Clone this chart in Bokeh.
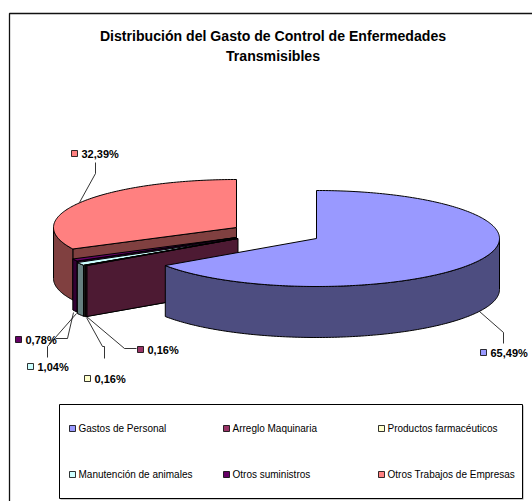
import math
from bokeh.plotting import figure
from bokeh.models import Range1d
from bokeh.embed import file_html
from bokeh.resources import INLINE
from bokeh.core.properties import value

categories = ["Gastos de Personal", "Arreglo Maquinaria", "Productos farmacéuticos",
              "Manutención de animales", "Otros suministros", "Otros Trabajos de Empresas"]
shares = [65.49, 0.16, 0.16, 1.04, 0.78, 32.39]
share_labels = ["65,49%", "0,16%", "0,16%", "1,04%", "0,78%", "32,39%"]
title_lines = ["Distribución del Gasto de Control de Enfermedades", "Transmisibles"]
top_colors = ["#9999FF", "#993366", "#FFFFCC", "#CCFFFF", "#660066", "#FF8080"]
side_colors = ["#4D4D80", "#4D1A33", "#808066", "#668080", "#330033", "#804040"]

# layout (page pixels)
RX, RY, DEPTH = 183, 48, 51
CENTERS = [(316, 238), (237.5, 238), (237, 238.5), (236.3, 238.5), (236, 237), (236, 227)]
LABEL_XY = [(483, 352), (140, 349), (87, 378), (30, 366), (18, 339), (74, 153)]
LEADER_PATHS = [
    ([479, 503, 503], [311, 332, 343]),
    ([86, 124, 136], [316, 348, 348]),
    ([86, 102, 104, 104], [317, 346, 346, 358]),
    ([76, 47, 47], [313, 346, 357]),
    ([73, 67, 55], [312, 338, 338]),
    ([79, 95, 95], [202, 173, 162]),
]
LEGEND_COLS = [72, 226, 381]
LEGEND_ROWS = [428, 474]

p = figure(width=532, height=501, x_range=Range1d(0, 532), y_range=Range1d(501, 0),
           toolbar_location=None, output_backend="svg", min_border=0)
p.axis.visible = False
p.grid.visible = False
p.outline_line_color = None
p.background_fill_color = "white"
p.border_fill_color = "white"


def pt(c, a, dy=0.0):
    return c[0] + RX * math.sin(a), c[1] - RY * math.cos(a) + dy


def arc(c, a0, a1, dy=0.0):
    n = max(2, int(abs(a1 - a0) * 60))
    return [pt(c, a0 + (a1 - a0) * i / n, dy) for i in range(n + 1)]


def poly(points, fill, width=1.0):
    p.patch([q[0] for q in points], [q[1] for q in points], fill_color=fill,
            line_color="black", line_width=width, line_join="round")


total = sum(shares)
spans = []
acc = 0.0
for s in shares:
    a0 = acc / total * 2 * math.pi
    acc += s
    spans.append((a0, acc / total * 2 * math.pi))

# frame
p.line([9, 9, 540, 540], [510, 13, 13, 510], line_color="#111111", line_width=1.3)

# painter order: back slice first, then thin slices, front big slice last
for idx in [5, 4, 3, 2, 1, 0]:
    c = CENTERS[idx]
    a0, a1 = spans[idx]
    # radial walls, only when they face the viewer
    if math.sin(a0) < -1e-6:
        poly([c, pt(c, a0), pt(c, a0, DEPTH), (c[0], c[1] + DEPTH)], side_colors[idx])
    if math.sin(a1) > 1e-6:
        poly([c, pt(c, a1), pt(c, a1, DEPTH), (c[0], c[1] + DEPTH)], side_colors[idx])
    # outer rim: only the part facing the viewer (lower half of ellipse)
    lo, hi = max(a0, math.pi / 2), min(a1, 3 * math.pi / 2)
    if hi > lo:
        poly(arc(c, lo, hi) + arc(c, hi, lo, DEPTH), side_colors[idx])
    # top
    poly([c] + arc(c, a0, a1), top_colors[idx])

# leaders
for xs, ys in LEADER_PATHS:
    p.line(xs, ys, line_color="black", line_width=0.8)

# data labels
for (x, y), lab, col in zip(LABEL_XY, share_labels, top_colors):
    p.scatter([x], [y], marker="square", size=6, fill_color=col, line_color="black", line_width=0.8)
    p.text([x + 7], [y], text=[lab], text_font=value("Liberation Sans"), text_font_size="11px",
           text_font_style="bold", text_baseline="middle", text_align="left", text_color="black")

# title
for y, t in zip((35, 55), title_lines):
    p.text([272.5], [y], text=[t], text_font=value("Liberation Sans"), text_font_size="14.1px",
           text_font_style="bold", text_baseline="middle", text_align="center", text_color="black")

# legend
p.quad(left=[60], right=[523], top=[405], bottom=[499], fill_color="#999999", line_color=None)
p.quad(left=[59], right=[522], top=[404], bottom=[498], fill_color="white", line_color="black", line_width=1)
for i, (name, col) in enumerate(zip(categories, top_colors)):
    x = LEGEND_COLS[i % 3]
    y = LEGEND_ROWS[i // 3]
    p.scatter([x], [y], marker="square", size=6, fill_color=col, line_color="black", line_width=0.8)
    p.text([x + 6], [y], text=[name], text_font=value("Liberation Sans"), text_font_size="10px",
           text_baseline="middle", text_align="left", text_color="black")

open("out.html", "w").write(file_html(p, INLINE))
